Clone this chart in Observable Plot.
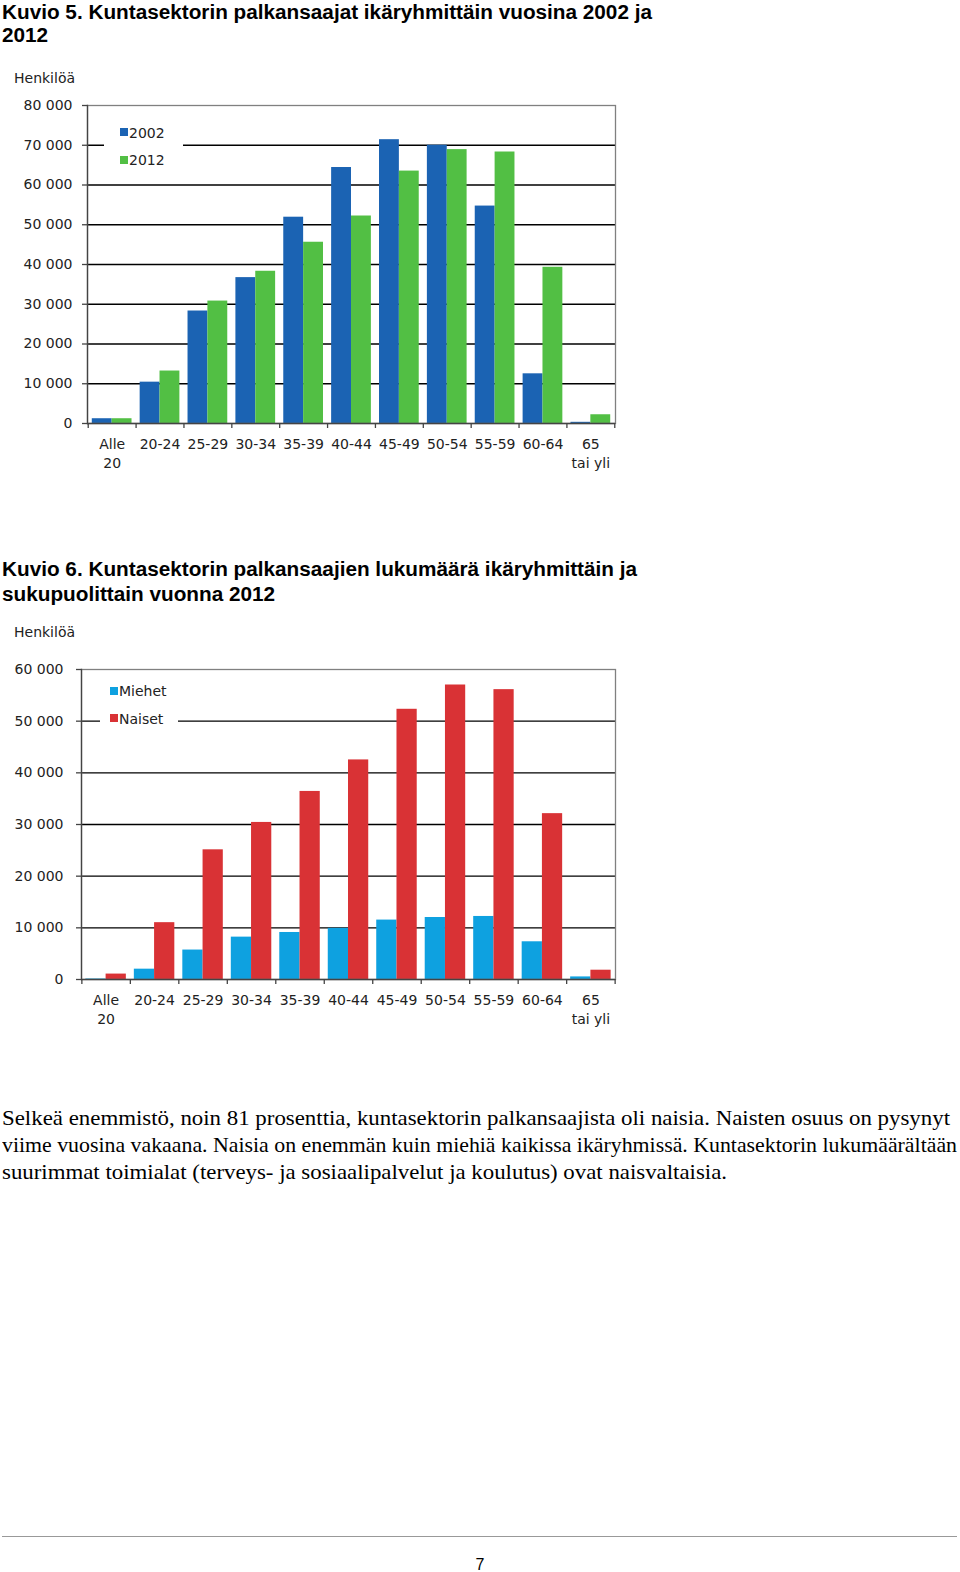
<!DOCTYPE html>
<html><head><meta charset="utf-8">
<script src="https://cdn.jsdelivr.net/npm/d3@7"></script>
<script src="https://cdn.jsdelivr.net/npm/@observablehq/plot@0.6"></script>
<style>
html,body{margin:0;padding:0;background:#fff}
body{width:960px;height:1572px;position:relative;overflow:hidden}
.abs{position:absolute;white-space:nowrap}
.title{font-family:"Liberation Sans Narrow","Liberation Sans",Arial,sans-serif;font-weight:bold;font-size:20px;line-height:24px;color:#000;transform-origin:0 0}
.body{font-family:"Liberation Serif","Times New Roman",serif;font-size:21px;line-height:21px;color:#000;transform-origin:0 0}
.unit,.lg{font-family:"DejaVu Sans",sans-serif;font-size:14px;line-height:16px;color:#222}
.box{background:#fff}
.sw{position:absolute;width:8px;height:8px}
</style></head>
<body>
<div class="abs title" style="left:2px;top:0px" id="t1a">Kuvio 5. Kuntasektorin palkansaajat ikäryhmittäin vuosina 2002 ja</div>
<div class="abs title" style="left:2px;top:23px" id="t1b">2012</div>
<div class="abs unit" style="left:14px;top:70px">Henkilöä</div>
<div class="abs" id="chart1" style="left:0;top:60px"></div>

<div class="abs title" style="left:2px;top:557px" id="t2a">Kuvio 6. Kuntasektorin palkansaajien lukumäärä ikäryhmittäin ja</div>
<div class="abs title" style="left:2px;top:582px" id="t2b">sukupuolittain vuonna 2012</div>
<div class="abs unit" style="left:14px;top:624px">Henkilöä</div>
<div class="abs" id="chart2" style="left:0;top:620px"></div>

<div class="abs body" style="left:2px;top:1108px" data-w="948">Selkeä enemmistö, noin 81 prosenttia, kuntasektorin palkansaajista oli naisia. Naisten osuus on pysynyt</div>
<div class="abs body" style="left:2px;top:1135px" data-w="955">viime vuosina vakaana. Naisia on enemmän kuin miehiä kaikissa ikäryhmissä. Kuntasektorin lukumäärältään</div>
<div class="abs body" style="left:2px;top:1162px" data-w="725">suurimmat toimialat (terveys- ja sosiaalipalvelut ja koulutus) ovat naisvaltaisia.</div>

<div class="abs" style="left:2px;top:1536px;width:955px;height:0;border-top:1.5px solid #999"></div>
<div class="abs" style="left:0;width:960px;top:1556px;text-align:center;font-family:'Liberation Sans',Arial,sans-serif;font-size:16px;line-height:18px;color:#000">7</div>

<script>
// ---- Data ----
const ageGroups = ["Alle 20","20-24","25-29","30-34","35-39","40-44","45-49","50-54","55-59","60-64","65 tai yli"];
const ageLabels = ["Alle\n20","20-24","25-29","30-34","35-39","40-44","45-49","50-54","55-59","60-64","65\ntai yli"];
const series1 = ["2002","2012"];
const values2002 = [1200, 10400, 28300, 36700, 51900, 64400, 71400, 70000, 54700, 12500, 300];
const values2012 = [1200, 13200, 30800, 38300, 45600, 52200, 63500, 68900, 68300, 39300, 2200];
const series2 = ["Miehet","Naiset"];
const men2012   = [100, 2000, 5700, 8200, 9100, 9900, 11500, 12000, 12200, 7300, 500];
const women2012 = [1050, 11000, 25100, 30400, 36400, 42500, 52300, 57000, 56100, 32100, 1800];
const yTicks1 = [0, 10000, 20000, 30000, 40000, 50000, 60000, 70000, 80000];
const yTicks2 = [0, 10000, 20000, 30000, 40000, 50000, 60000];
const colors1 = ["#1b63b3", "#52bf44"];
const colors2 = ["#0ea1e0", "#d93235"];

const fmt = d => d === 0 ? "0" : d3.format(",")(d).replace(/,/g, " ");

function groupedBars(cfg) {
  const width = 640, height = cfg.height;
  const n = ageGroups.length;
  const plotW = width - cfg.mL - cfg.mR;
  const plotH = height - cfg.mT - cfg.mB;
  const step = plotW / (n - cfg.pI + 2 * cfg.pO);
  const bw = step * (1 - cfg.pI);
  const rows = ageGroups.map((g, i) => ({g, a: cfg.a[i], b: cfg.b[i]}));
  return Plot.plot({
    width, height,
    marginLeft: cfg.mL, marginRight: cfg.mR, marginTop: cfg.mT, marginBottom: cfg.mB,
    style: {fontFamily: "DejaVu Sans, sans-serif", fontSize: "14px", color: "#222", background: "transparent", overflow: "visible"},
    x: {type: "band", domain: ageGroups, paddingInner: cfg.pI, paddingOuter: cfg.pO, align: 0.5, round: false},
    y: {domain: [0, cfg.yTicks[cfg.yTicks.length - 1]]},
    marks: [
      Plot.ruleY(cfg.yTicks.slice(1, -1), {stroke: "#000", strokeWidth: 1.3}),
      Plot.barY(rows, {x: "g", y: "a", fill: cfg.colors[0], insetLeft: 0, insetRight: bw / 2}),
      Plot.barY(rows, {x: "g", y: "b", fill: cfg.colors[1], insetLeft: bw / 2, insetRight: 0}),
      Plot.frame({stroke: "#808080", strokeWidth: 1.3}),
      Plot.ruleY([0], {stroke: "#444", strokeWidth: 1.3}),
      Plot.frame({anchor: "left", stroke: "#444", strokeWidth: 1.3}),
      Plot.axisY({ticks: cfg.yTicks, tickSize: cfg.tickSize, tickPadding: cfg.tickPad, tickFormat: fmt, stroke: "#444", strokeWidth: 1.3, anchor: "left", label: null}),
      Plot.axisX({tickSize: 0, tickPadding: 13, tickFormat: d => ageLabels[ageGroups.indexOf(d)], lineHeight: 1.3, label: null}),
      Plot.ruleX(ageGroups, {x: d => d, dx: -step / 2, insetTop: plotH, insetBottom: -5, stroke: "#444", strokeWidth: 1.3}),
      Plot.ruleX([ageGroups[n - 1]], {x: d => d, dx: step / 2, insetTop: plotH, insetBottom: -5, stroke: "#444", strokeWidth: 1.3})
    ]
  });
}

document.getElementById("chart1").append(groupedBars({
  height: 420, mL: 87, mR: 25, mT: 45, mB: 57,
  pI: 0.17, pO: 0.1, a: values2002, b: values2012, colors: colors1,
  yTicks: yTicks1, tickSize: 5, tickPad: 10
}));
document.getElementById("chart2").append(groupedBars({
  height: 420, mL: 81, mR: 25, mT: 49, mB: 61,
  pI: 0.165, pO: 0.09, a: men2012, b: women2012, colors: colors2,
  yTicks: yTicks2, tickSize: 5, tickPad: 13
}));

// ---- Legends (HTML overlays) ----
function legend(box, items) {
  const b = document.createElement("div");
  b.className = "abs box";
  Object.assign(b.style, {left: box.x + "px", top: box.y + "px", width: box.w + "px", height: box.h + "px"});
  document.body.append(b);
  items.forEach(it => {
    const s = document.createElement("div");
    s.className = "sw";
    Object.assign(s.style, {left: it.sx + "px", top: it.sy + "px", background: it.color});
    document.body.append(s);
    const t = document.createElement("div");
    t.className = "abs lg";
    Object.assign(t.style, {left: it.tx + "px", top: it.ty + "px"});
    t.textContent = it.label;
    document.body.append(t);
  });
}
legend({x: 104, y: 120, w: 79, h: 50}, [
  {label: series1[0], color: colors1[0], sx: 120, sy: 128, tx: 129, ty: 125},
  {label: series1[1], color: colors1[1], sx: 120, sy: 156, tx: 129, ty: 152}
]);
legend({x: 100, y: 676, w: 78, h: 52}, [
  {label: series2[0], color: colors2[0], sx: 110, sy: 687, tx: 119, ty: 683},
  {label: series2[1], color: colors2[1], sx: 110, sy: 714, tx: 119, ty: 711}
]);

// ---- Fit text widths ----
function fit(el, w) { const r = el.getBoundingClientRect().width; const k = w / r; el.style.transform = `scaleX(${k})`; return k; }
const k1 = fit(document.getElementById("t1a"), 650);
document.getElementById("t1b").style.transform = `scaleX(${k1})`;
const k2 = fit(document.getElementById("t2a"), 635);
document.getElementById("t2b").style.transform = `scaleX(${k2})`;
document.querySelectorAll("[data-w]").forEach(el => fit(el, +el.dataset.w));
</script>
</body></html>
